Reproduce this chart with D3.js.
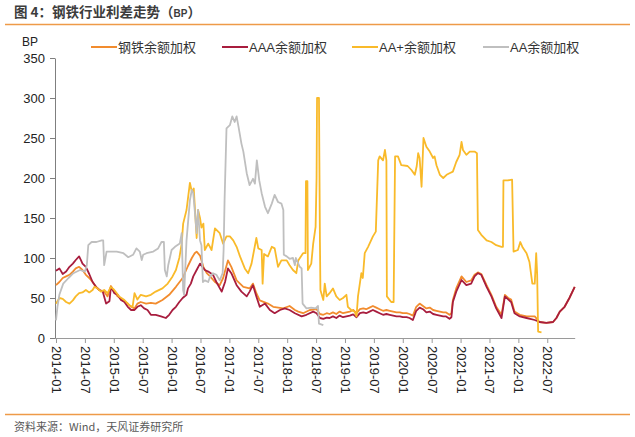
<!DOCTYPE html>
<html><head><meta charset="utf-8">
<script src="https://cdn.jsdelivr.net/npm/d3@7"></script>
<style>body{margin:0;background:#fff}svg{display:block}</style>
</head><body>
<svg id="c" width="635" height="437"></svg>
<script>
// x values: months since 2014-01 ; y values: spread in BP
const tickLabels = ["2014-01","2014-07","2015-01","2015-07","2016-01","2016-07","2017-01","2017-07","2018-01","2018-07","2019-01","2019-07","2020-01","2020-07","2021-01","2021-07","2022-01","2022-07"];
const yTicks = [0,50,100,150,200,250,300,350];
const seriesNames = ["钢铁余额加权","AAA余额加权","AA+余额加权","AA余额加权"];

const steelSeries = [[0,66],[0.7,70],[1.4,75],[2.1,77],[2.8,79],[3.5,83],[4.1,87],[4.8,89],[5.5,85],[6.2,79],[6.9,75],[7.6,70],[8.3,64],[9,60],[10,58],[10.7,52],[11.4,65],[12.1,58],[12.8,52],[13.8,47.5],[14.9,43],[15.6,39],[16.3,37],[16.9,43],[17.6,45],[18.7,43],[19.7,44],[20.7,43],[22.1,47.5],[23.5,54],[24.9,64],[26.3,75],[27.4,90],[28.2,100],[28.8,106],[29.2,108],[29.9,103],[30.6,89],[31.3,81],[32,77],[33,70],[34,66],[34.7,75],[35.7,97],[36.4,89],[37.5,72],[38.9,64],[40.2,62],[40.9,68],[41.6,56],[42.3,47],[44,43],[45.1,39],[47.2,37],[48.5,40],[49.6,35],[50.3,33],[51.3,31],[52.7,35],[54.1,36],[54.8,30],[55.5,29],[56.2,31],[56.8,30],[57.5,32],[58.2,30],[58.9,33],[59.6,31],[60.3,32],[61,33],[61.7,35],[62.4,31],[63.1,36],[63.8,37],[64.4,36],[65.1,38],[65.8,40],[66.5,38],[67.2,36],[67.9,34],[68.6,35],[69.3,34],[70,33],[70.7,32],[71.4,32],[72,31],[72.8,31],[73.4,30],[74.1,28],[74.8,39],[75.5,43],[76.2,40],[76.9,37],[77.6,38],[78.3,35],[79,34],[79.7,33],[80.4,32],[81,32],[81.7,29],[82.1,31],[82.4,47.5],[83.1,62],[84.2,77],[85.2,70],[86.2,72],[86.9,79],[87.6,82],[88.3,80],[89.4,66],[90.4,54],[91.4,39],[92.5,29],[93.2,54],[93.9,50],[94.5,48],[95.2,33],[96.3,29],[97.7,27],[99.4,27],[100.4,20],[101.8,19],[103.2,20],[103.9,25],[104.6,33],[105.6,39],[106.6,50],[107.7,64]];

const aaaSeries = [[0,84],[0.7,87],[1.4,80],[2.1,83],[2.8,89],[3.5,93],[4.1,97.5],[4.8,102],[5.2,97],[5.5,93],[6.2,89],[6.9,80],[7.6,70],[8.3,64],[9,60],[9.7,58],[10.4,43],[11.1,46],[11.4,64],[12.1,56],[12.8,54],[13.5,47.5],[14.2,45],[14.9,39],[15.6,35],[16.3,35],[16.9,39],[17.6,41],[18.3,37],[19,35],[19.7,29],[20.7,29],[21.8,27],[22.8,25],[23.5,29],[24.2,35],[24.9,39],[25.6,45],[26.3,50],[27.1,54],[27.4,62],[28,68],[28.5,77],[29.2,85],[29.9,93],[30.9,85],[31.6,83],[32.6,79],[33.3,70],[34.4,58],[35.1,70],[35.7,87],[36.4,81],[37.5,66],[38.5,58],[39.6,52],[40.2,58],[40.9,66],[41.6,52],[42.3,39],[43.4,43],[44.4,35],[45.4,31],[46.5,35],[47.5,37],[48.5,35],[49.6,31],[51,27],[52,29],[53.4,33],[54.1,31],[54.8,25],[55.5,24],[56.2,25.5],[56.8,25],[57.5,27],[58.2,25],[58.9,28],[59.6,26],[60.3,27],[61,28],[61.7,29.6],[62.4,26],[63.1,31],[63.8,32],[64.4,31],[65.1,33],[65.8,35],[66.5,33],[67.2,31],[67.9,29],[68.6,30],[69.3,29],[70,28],[70.7,27],[71.4,27],[72,26],[72.8,26],[73.4,25],[74.1,22.5],[74.8,34],[75.5,38],[76.2,36],[76.9,32],[77.6,33],[78.3,30],[79,29],[79.7,28],[80.4,27],[81,27],[81.7,24],[82.1,26],[82.4,45],[83.1,58],[84.2,72.5],[85.2,66],[86.2,68],[86.9,77],[87.6,81],[88.3,79],[89.4,64],[90.4,52],[91.4,37],[92.5,25],[93.2,52],[94.5,45],[95.2,31],[96.3,27],[97.7,25],[99.4,22.5],[100.4,20],[101.8,19],[103.2,20],[103.9,25],[104.6,33],[105.6,39],[106.6,50],[107.7,64]];

const aaPlusSeries = [[0,43],[0.7,50],[1.4,49],[2.1,45],[2.8,43],[3.5,47],[4.1,52],[4.8,56],[5.5,57],[6.2,60],[6.9,57],[7.6,60],[8,64],[8.6,62],[9.3,58],[10,60],[10.7,56],[11.4,64],[12.1,60],[13.1,52],[14.2,47.5],[15.2,41],[15.9,39],[16.3,56],[16.9,48],[17.6,54],[18.7,52],[19.7,54],[20.7,58],[22.1,62],[23.2,68],[24.2,77],[24.9,85],[25.6,100],[26.1,118],[26.4,143],[27.1,160],[27.8,194],[28.2,183],[28.6,187],[29.2,125],[29.5,160],[29.9,150],[30.2,138],[30.6,143],[30.9,110],[31.6,118],[32.3,110],[33,137],[34,131],[34.7,118],[35.4,127],[36.1,127],[36.8,122],[37.5,114],[38.2,102],[39.2,87],[39.9,81],[40.6,93],[41.6,125],[42,112],[42.7,110],[42.9,68],[43.2,105],[44,102],[44.8,114],[45.4,112],[46.1,89],[46.8,97],[47.9,97],[48.5,91],[49.2,85],[49.9,81],[50.3,97],[51.3,106],[51.8,106],[51.9,196],[52.2,196],[52.3,85],[53,93],[53.4,118],[53.9,139],[54.1,200],[54.2,300],[54.6,300],[54.8,120],[54.9,60],[55.5,47.5],[55.8,68],[56.2,52],[56.8,56],[57.5,62],[58.2,52],[58.9,47.5],[59.6,50],[60.3,54],[60.6,39],[61.3,35],[62,33],[62.4,27],[62.7,52],[63.4,81],[63.7,75],[64.1,106],[64.8,114],[65.8,127],[66.4,133],[66.9,222],[67.2,227],[67.9,222],[68.3,235],[68.6,222],[68.7,52],[69.6,45],[70.1,45],[70.4,227],[71,227],[71.7,216],[73,215],[73.8,210],[74.5,204],[74.9,215],[75.2,231],[75.5,225],[75.9,189],[76.3,250],[76.9,239],[77.6,233],[78.3,225],[78.6,227],[79,216],[79.7,204],[80.4,200],[81.1,204],[81.7,206],[82.4,208],[83.1,220],[83.8,229],[84.2,245],[84.5,235],[85.2,229],[85.9,233],[86.9,233],[87.4,231],[87.6,135],[88.3,129],[89.4,122],[90.4,120],[91.4,116],[92.5,114],[92.8,114],[92.9,197],[93.8,197],[94.7,198],[95,108],[95.9,110],[96.4,120],[96.9,113],[97.7,106],[98.3,95],[98.9,68],[99.4,68],[99.7,106],[99.9,80],[100.1,8],[100.8,7]];

const aaSeries = [[0,22],[0.3,39],[0.7,54],[1.5,68],[2.6,75],[3.6,81],[5,85],[6,83],[6.4,91],[6.7,116],[7.4,120],[8.4,120],[9.5,122],[9.8,122],[10,91],[10.5,108],[11.2,108],[12.6,108],[14,106],[15,101],[16,104],[16.7,112],[17.4,108],[17.8,97.5],[18.1,104],[18.8,106],[20.2,108],[21.2,112],[21.9,120],[22.4,120],[22.6,85],[23,77],[23.3,91],[24,110],[24.7,114],[25.7,118],[26.1,131],[26.4,60],[26.6,54],[27.1,122],[27.8,172],[28.2,185],[28.5,181],[28.8,160],[29.2,131],[29.5,160],[29.9,122],[30.2,116],[30.5,70],[30.9,72],[31.6,70],[32,77],[32.6,81],[33.3,79],[34,72],[34.6,81],[34.8,110],[35,172],[35.4,262],[36.1,266],[36.6,277],[37.1,270],[37.5,277],[37.9,264],[38.5,243],[38.9,233],[39.6,206],[40.2,191],[40.9,199],[41.3,193],[41.7,222],[42.2,197],[42.7,181],[43.4,164],[44,156],[44.8,168],[45.4,179],[46.1,170],[46.8,168],[47.2,160],[47.3,104],[47.9,102],[48.5,99],[49.2,100],[49.6,91],[49.8,100],[50.6,89],[51,87],[51.2,43],[52,37],[53,38],[53.9,37],[54.4,40],[54.6,18],[55.5,16]];

const allSeries = [steelSeries, aaaSeries, aaPlusSeries, aaSeries];
const colors = ["#F28C2E","#A81D3E","#F9BA2A","#BFBFBF"];

const svg = d3.select("#c");
const latin = "'Liberation Sans', Arial, 'Noto Sans CJK SC', sans-serif";

// title
const title = svg.append("text").attr("x",14).attr("y",17)
  .attr("font-family", "'Noto Sans CJK SC', sans-serif").attr("font-weight","bold")
  .attr("font-size",13.5).attr("fill","#3c3c3c");
title.append("tspan").text("图 4：钢铁行业利差走势（");
title.append("tspan").attr("font-size",10).attr("font-family",latin).text("BP");
title.append("tspan").text("）");
svg.append("line").attr("x1",5).attr("x2",630).attr("y1",24.5).attr("y2",24.5)
  .attr("stroke","#EE9A48").attr("stroke-width",1.5);
svg.append("line").attr("x1",5).attr("x2",630).attr("y1",414.5).attr("y2",414.5)
  .attr("stroke","#EE9A48").attr("stroke-width",1.5);
svg.append("text").attr("x",14).attr("y",431).attr("font-size",11)
  .attr("font-family","'Noto Sans CJK SC', sans-serif").attr("fill","#595959")
  .text("资料来源：Wind，天风证券研究所");

const x = d3.scaleLinear().domain([0,107.8]).range([56,575.2]);
const y = d3.scaleLinear().domain([0,350]).range([338,58]);

// y axis
const ya = svg.append("g").attr("transform","translate(55,0)")
  .call(d3.axisLeft(y).tickValues(yTicks).tickSize(5).tickSizeOuter(0).tickPadding(5));
ya.select(".domain").attr("stroke","#7f7f7f");
ya.selectAll(".tick line").attr("stroke","#7f7f7f");
ya.selectAll("text").attr("font-size",13).attr("font-family",latin).attr("fill","#222");
svg.append("text").attr("x",22).attr("y",46).attr("font-size",12).attr("font-family",latin)
  .attr("fill","#222").text("BP");

// x axis
const xa = svg.append("g").attr("transform","translate(0,338)")
  .call(d3.axisBottom(x).tickValues(tickLabels.map((d,i)=>i*6)).tickFormat((d,i)=>tickLabels[i])
    .tickSize(5).tickSizeOuter(0));
xa.select(".domain").attr("stroke","#9a9a9a").attr("d","M55,0.5H575.2");
xa.selectAll(".tick line").attr("stroke","#9a9a9a");
xa.selectAll("text").attr("font-size",13).attr("font-family",latin).attr("fill","#222")
  .attr("transform","rotate(90)").attr("x",8).attr("y",0).attr("dy","0.35em")
  .style("text-anchor","start");

// lines
const line = d3.line().x(d=>x(d[0])).y(d=>y(d[1]));
svg.append("g").selectAll("path").data(allSeries).join("path")
  .attr("d",line).attr("fill","none").attr("stroke",(d,i)=>colors[i])
  .attr("stroke-width",1.8).attr("stroke-linejoin","round");

// legend
const legX = [91,222,352,483];
const lg = svg.append("g").selectAll("g").data(seriesNames).join("g")
  .attr("transform",(d,i)=>`translate(${legX[i]},47)`);
lg.append("line").attr("x1",0).attr("x2",26).attr("stroke",(d,i)=>colors[i]).attr("stroke-width",2);
lg.append("text").attr("x",27).attr("dy","0.35em").attr("font-size",13)
  .attr("font-family",latin).attr("fill","#333").text(d=>d);
</script>
</body></html>
